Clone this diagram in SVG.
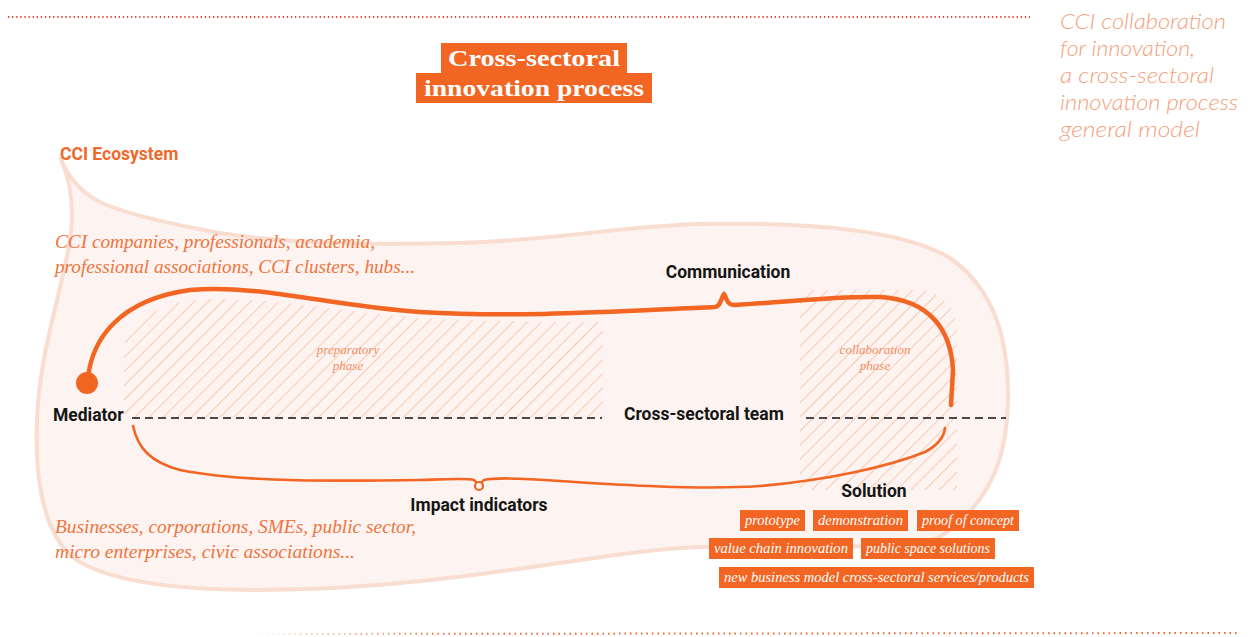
<svg xmlns="http://www.w3.org/2000/svg" width="1256" height="637" viewBox="0 0 1256 637">
<style>
.lbl{font-family:Roboto,"Liberation Sans",sans-serif;font-weight:700;font-size:17.5px;fill:#151515}
.ser{font-family:"Liberation Serif","DejaVu Serif",serif;font-style:italic;fill:#ee7540}
.phase{font-family:"Liberation Serif","DejaVu Serif",serif;font-style:italic;font-size:13px;fill:#f28f62;text-anchor:middle}
.tag{fill:#f26522}
.tagt{font-family:"Liberation Serif","DejaVu Serif",serif;font-style:italic;font-size:14px;fill:#ffffff;text-anchor:middle}
.dash{stroke:#111;stroke-width:1.6;stroke-dasharray:8 5;fill:none}
.curve{fill:none;stroke:#f26522;stroke-linecap:round;stroke-linejoin:round}
.note{font-family:Lato,"Open Sans","Liberation Sans",sans-serif;font-style:italic;font-weight:300;font-size:21px;fill:#f49f7c}
</style>
<defs>
<pattern id="hatch" width="10" height="10" patternUnits="userSpaceOnUse" patternTransform="rotate(45)">
<line x1="0" y1="0" x2="0" y2="10" stroke="#f5ae87" stroke-width="1.2"/>
</pattern>
<linearGradient id="fade" x1="245" y1="0" x2="460" y2="0" gradientUnits="userSpaceOnUse">
<stop offset="0" stop-color="#f26522" stop-opacity="0"/>
<stop offset="1" stop-color="#f26522" stop-opacity="1"/>
</linearGradient>
</defs>
<rect width="1256" height="637" fill="#ffffff"/>

<line x1="8" y1="17" x2="1030" y2="17" stroke="#dc4538" stroke-width="2" stroke-dasharray="1.3 2.8"/>
<line x1="245" y1="634" x2="1238" y2="633" stroke="url(#fade)" stroke-width="2" stroke-dasharray="1.5 4"/>

<g id="side-note">
<text class="note" x="1060" y="29" textLength="166" lengthAdjust="spacingAndGlyphs">CCI collaboration</text>
<text class="note" x="1060" y="56" textLength="135" lengthAdjust="spacingAndGlyphs">for innovation,</text>
<text class="note" x="1060" y="83" textLength="154" lengthAdjust="spacingAndGlyphs">a cross-sectoral</text>
<text class="note" x="1060" y="110" textLength="178" lengthAdjust="spacingAndGlyphs">innovation process</text>
<text class="note" x="1060" y="137" textLength="140" lengthAdjust="spacingAndGlyphs">general model</text>
</g>

<g id="title">
<rect x="441" y="43" width="186" height="31" fill="#f26522"/>
<rect x="416" y="73" width="236" height="30" fill="#f26522"/>
<text x="534" y="66" font-family="'Liberation Serif',serif" font-weight="700" font-size="24" fill="#fff" text-anchor="middle" textLength="172" lengthAdjust="spacingAndGlyphs">Cross-sectoral</text>
<text x="534" y="96" font-family="'Liberation Serif',serif" font-weight="700" font-size="24" fill="#fff" text-anchor="middle" textLength="220" lengthAdjust="spacingAndGlyphs">innovation process</text>
</g>

<g id="ecosystem">
<path d="M60,157 C68,178 82,194 104,204 C134,216 172,224 220,233 C290,244 380,245 460,243 C560,240 620,226 700,224 C800,222 900,228 950,258 C995,290 1008,340 1008,395 C1008,450 995,500 940,537 C900,552 780,545 700,547 C600,550 450,590 260,590 C170,590 100,580 70,555 C40,525 35,470 37,420 C39,370 50,330 57,300 C65,265 72,240 72,215 C72,190 66,170 60,157 Z" fill="#fdf3f0" stroke="#f9ddd0" stroke-width="4"/>
<text x="60" y="160" font-family="Roboto,'Liberation Sans',sans-serif" font-weight="700" font-size="17.5" fill="#ee6a2c">CCI Ecosystem</text>
<text class="ser" x="55" y="248" font-size="19" textLength="320" lengthAdjust="spacingAndGlyphs">CCI companies, professionals, academia,</text>
<text class="ser" x="55" y="273" font-size="19" textLength="360" lengthAdjust="spacingAndGlyphs">professional associations, CCI clusters, hubs...</text>
<text class="ser" x="55" y="533" font-size="19" textLength="361" lengthAdjust="spacingAndGlyphs">Businesses, corporations, SMEs, public sector,</text>
<text class="ser" x="55" y="558" font-size="19" textLength="300" lengthAdjust="spacingAndGlyphs">micro enterprises, civic associations...</text>
</g>

<g id="preparatory-phase">
<path d="M124,418 L124,345 C135,318 160,302 205,299 C280,298 340,312 420,318 C500,322 560,322 603,322 L603,418 Z" fill="url(#hatch)"/>
<text class="phase" x="348" y="354">preparatory</text>
<text class="phase" x="348" y="370">phase</text>
</g>

<g id="collaboration-phase">
<path d="M800,290 L920,290 C945,295 957,310 957,330 L957,490 L800,490 Z" fill="url(#hatch)"/>
<text class="phase" x="875" y="354">collaboration</text>
<text class="phase" x="875" y="370">phase</text>
</g>

<g id="connectors">
<line class="dash" x1="132" y1="418" x2="602" y2="418"/>
<line class="dash" x1="806" y1="418" x2="1006" y2="418"/>
<path class="curve" stroke-width="4.5" d="M88,378 C92,340 118,300 190,290 C260,284 330,306 420,312 C520,318 620,311 715,307 C721,306 721,298 724,294 C727,298 726,305 735,305 C790,302 830,296 880,297 C930,300 951,330 953,370 L951,405"/>
<path class="curve" stroke-width="2.6" d="M133,426 C138,448 150,462 180,470 C230,480 300,482 420,480 C450,479 468,478 474,480 M484,480 C492,478 520,478 560,481 C620,485 700,490 760,486 C830,480 890,466 925,452 C938,445 944,438 945,428"/>
<circle cx="479" cy="486" r="4" fill="none" stroke="#f26522" stroke-width="2.2"/>
<path d="M474,480 C476,482 477,483 477,483 M484,480 C482,482 481,483 481,483" fill="none" stroke="#f26522" stroke-width="2.2"/>
</g>

<g id="mediator">
<circle cx="87" cy="383" r="11" fill="#f26522"/>
<text class="lbl" x="53" y="421">Mediator</text>
</g>
<g id="communication"><text class="lbl" x="728" y="278" text-anchor="middle">Communication</text></g>
<g id="cross-sectoral-team"><text class="lbl" x="624" y="420">Cross-sectoral team</text></g>
<g id="impact-indicators"><text class="lbl" x="479" y="511" text-anchor="middle">Impact indicators</text></g>

<g id="solution">
<text class="lbl" x="874" y="497" text-anchor="middle">Solution</text>
<rect class="tag" x="740" y="510" width="65" height="21"/>
<text class="tagt" x="772.5" y="525" textLength="55" lengthAdjust="spacingAndGlyphs">prototype</text>
<rect class="tag" x="813" y="510" width="95" height="21"/>
<text class="tagt" x="860.5" y="525" textLength="85" lengthAdjust="spacingAndGlyphs">demonstration</text>
<rect class="tag" x="917" y="510" width="102" height="21"/>
<text class="tagt" x="968" y="525" textLength="92" lengthAdjust="spacingAndGlyphs">proof of concept</text>
<rect class="tag" x="709" y="538" width="144" height="21"/>
<text class="tagt" x="781" y="553" textLength="134" lengthAdjust="spacingAndGlyphs">value chain innovation</text>
<rect class="tag" x="861" y="538" width="134" height="21"/>
<text class="tagt" x="928" y="553" textLength="124" lengthAdjust="spacingAndGlyphs">public space solutions</text>
<rect class="tag" x="719" y="567" width="315" height="21"/>
<text class="tagt" x="876.5" y="582" textLength="305" lengthAdjust="spacingAndGlyphs">new business model cross-sectoral services/products</text>
</g>
</svg>
